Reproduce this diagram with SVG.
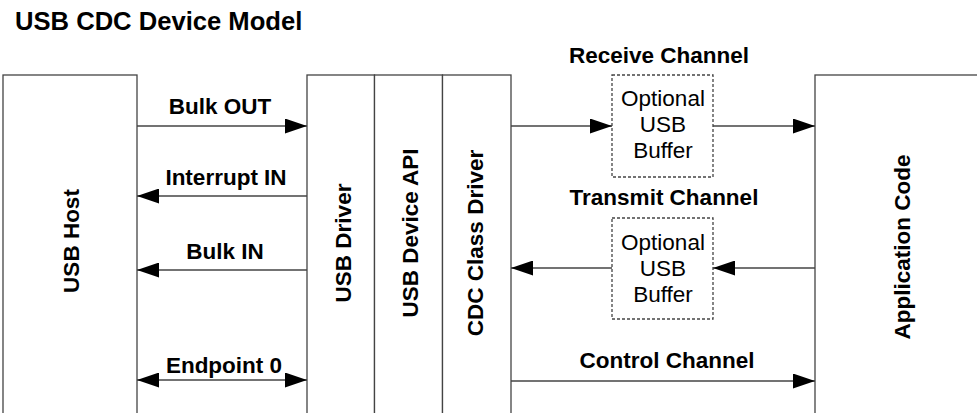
<svg xmlns="http://www.w3.org/2000/svg" width="977" height="413" viewBox="0 0 977 413">
<style>
.box{fill:#fff;stroke:#444;stroke-width:1.3}
.buf{fill:#fff;stroke:#444;stroke-width:1.3;stroke-dasharray:3,2}
.t{font-family:"Liberation Sans",Arial,sans-serif;font-weight:bold;font-size:22.5px;fill:#000;text-anchor:middle}
.r{font-family:"Liberation Sans",Arial,sans-serif;font-size:22.5px;fill:#000;text-anchor:middle}
.title{font-family:"Liberation Sans",Arial,sans-serif;font-weight:bold;font-size:25.6px;fill:#000}
.c{stroke:#444;stroke-width:1.3;fill:none;marker-end:url(#ah)}
.d{stroke:#444;stroke-width:1.3;fill:none;marker-end:url(#ah);marker-start:url(#ah)}
</style>
<defs>
<marker id="ah" markerUnits="userSpaceOnUse" markerWidth="22" markerHeight="15" refX="22" refY="7.5" orient="auto-start-reverse" viewBox="0 0 22 15">
<path d="M0,0 L22,7.5 L0,15 z" fill="#000"/>
</marker>
</defs>
<rect width="977" height="413" fill="#fff"/>
<text class="title" x="15" y="29.5">USB CDC Device Model</text>

<g id="usb-host">
<rect class="box" x="3" y="75" width="134" height="400"/>
<text class="t" transform="translate(79,241) rotate(-90)">USB Host</text>
</g>
<g id="usb-driver">
<rect class="box" x="307" y="75" width="67.5" height="400"/>
<text class="t" transform="translate(351,243) rotate(-90)">USB Driver</text>
</g>
<g id="usb-device-api">
<rect class="box" x="374.5" y="75" width="68" height="400"/>
<text class="t" transform="translate(417.5,233) rotate(-90)">USB Device API</text>
</g>
<g id="cdc-class-driver">
<rect class="box" x="442.5" y="75" width="68.5" height="400"/>
<text class="t" transform="translate(482.5,243) rotate(-90)">CDC Class Driver</text>
</g>
<g id="application-code">
<rect class="box" x="815" y="75" width="200" height="400"/>
<text class="t" transform="translate(910,247) rotate(-90)">Application Code</text>
</g>
<g id="rx-buffer">
<rect class="buf" x="612" y="75" width="101" height="102"/>
<text class="r" x="663" y="106">Optional</text>
<text class="r" x="663" y="132">USB</text>
<text class="r" x="663" y="158">Buffer</text>
</g>
<g id="tx-buffer">
<rect class="buf" x="612" y="218" width="101" height="101"/>
<text class="r" x="663" y="250">Optional</text>
<text class="r" x="663" y="276">USB</text>
<text class="r" x="663" y="302">Buffer</text>
</g>

<g id="connectors">
<line class="c" x1="137" y1="126" x2="307" y2="126"/>
<line class="c" x1="307" y1="196" x2="137" y2="196"/>
<line class="c" x1="307" y1="270" x2="137" y2="270"/>
<line class="d" x1="137" y1="380" x2="307" y2="380"/>
<line class="c" x1="511" y1="126" x2="612" y2="126"/>
<line class="c" x1="713" y1="126" x2="815" y2="126"/>
<line class="c" x1="815" y1="268" x2="713" y2="268"/>
<line class="c" x1="612" y1="268" x2="511" y2="268"/>
<line class="c" x1="511" y1="381" x2="815" y2="381"/>
<text class="t" x="220" y="114">Bulk OUT</text>
<text class="t" x="226" y="185">Interrupt IN</text>
<text class="t" x="225" y="259">Bulk IN</text>
<text class="t" x="224" y="373">Endpoint 0</text>
<text class="t" x="659" y="63">Receive Channel</text>
<text class="t" x="664" y="205">Transmit Channel</text>
<text class="t" x="667" y="368">Control Channel</text>
</g>
</svg>
